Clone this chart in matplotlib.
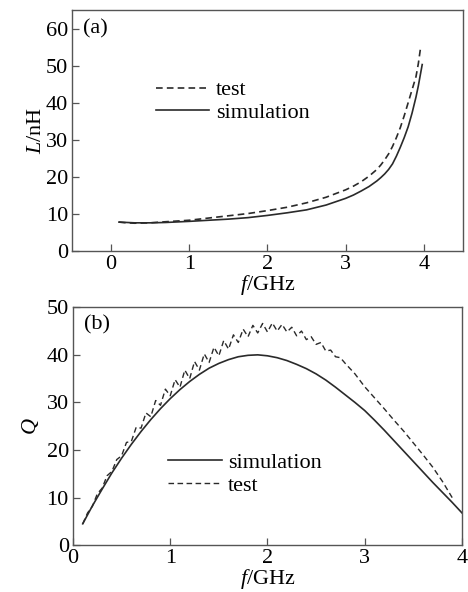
import numpy as np
import matplotlib
matplotlib.use("Agg")
import matplotlib.pyplot as plt

plt.rcParams["font.family"] = ["Liberation Serif", "DejaVu Serif"]
plt.rcParams["mathtext.fontset"] = "custom"
plt.rcParams["mathtext.rm"] = "Liberation Serif"
plt.rcParams["mathtext.it"] = "Liberation Serif:italic"

# (a) inductance vs frequency
L_f_sim = [0.1, 0.2, 0.3, 0.5, 0.7, 1.0, 1.25, 1.5, 1.75, 2.0, 2.25, 2.5, 2.75, 3.0, 3.1, 3.2,
           3.3, 3.4, 3.45, 3.5, 3.55, 3.6, 3.65, 3.7, 3.75, 3.8, 3.85, 3.9, 3.93, 3.96, 3.98]
L_sim = [7.8, 7.7, 7.6, 7.6, 7.7, 8.0, 8.3, 8.6, 9.0, 9.6, 10.3, 11.1, 12.4, 14.2, 15.1, 16.2,
         17.4, 18.9, 19.8, 20.8, 22.0, 23.5, 25.6, 28.0, 30.6, 33.5, 37.2, 41.5, 44.5, 48.0, 50.3]
L_f_test = [0.1, 0.2, 0.3, 0.5, 0.7, 1.0, 1.25, 1.5, 1.75, 2.0, 2.25, 2.5, 2.75, 3.0, 3.1, 3.2,
            3.3, 3.4, 3.45, 3.5, 3.55, 3.6, 3.65, 3.7, 3.75, 3.8, 3.85, 3.9, 3.93, 3.96]
L_test = [7.8, 7.6, 7.5, 7.6, 7.9, 8.3, 8.9, 9.5, 10.1, 10.9, 11.8, 13.0, 14.5, 16.5, 17.5, 18.7,
          20.2, 22.0, 23.2, 24.6, 26.2, 28.2, 30.6, 33.3, 36.5, 40.0, 43.5, 47.0, 50.5, 55.0]

# (b) quality factor vs frequency
Q_f_sim = [0.1, 0.2, 0.3, 0.4, 0.5, 0.6, 0.7, 0.8, 0.9, 1.0, 1.1, 1.2, 1.3, 1.4, 1.5, 1.6, 1.7,
           1.8, 1.9, 2.0, 2.1, 2.2, 2.3, 2.4, 2.5, 2.6, 2.7, 2.8, 2.9, 3.0, 3.1, 3.2, 3.3, 3.4,
           3.5, 3.6, 3.7, 3.8, 3.9, 4.0]
Q_sim = [4.5, 8.3, 11.8, 15.2, 18.3, 21.2, 23.9, 26.4, 28.7, 30.8, 32.7, 34.4, 35.9, 37.2, 38.2,
         39.0, 39.6, 39.9, 40.0, 39.8, 39.4, 38.8, 38.0, 37.1, 36.0, 34.7, 33.2, 31.6, 30.0, 28.3,
         26.3, 24.2, 22.0, 19.8, 17.6, 15.4, 13.2, 11.1, 9.0, 6.8]
Q_f_test = [0.10, 0.15, 0.20, 0.25, 0.30, 0.35, 0.40, 0.45, 0.50, 0.55,
            0.60, 0.65, 0.70, 0.75, 0.80, 0.85, 0.90, 0.95, 1.00, 1.05,
            1.10, 1.15, 1.20, 1.25, 1.30, 1.35, 1.40, 1.45, 1.50, 1.55,
            1.60, 1.65, 1.70, 1.75, 1.80, 1.85, 1.90, 1.95, 2.00, 2.05,
            2.10, 2.15, 2.20, 2.25, 2.30, 2.35, 2.40, 2.45, 2.50, 2.55,
            2.60, 2.65, 2.70, 2.75, 2.80, 2.90, 3.00, 3.10, 3.20, 3.30,
            3.40, 3.50, 3.60, 3.70, 3.80, 3.90]
Q_test = [4.5, 6.8, 8.2, 10.8, 12.0, 14.6, 15.5, 18.0, 18.8, 21.6,
          21.8, 24.8, 24.6, 27.8, 27.0, 30.4, 29.4, 32.8, 31.4, 34.8,
          33.2, 36.8, 35.0, 38.6, 36.8, 40.2, 38.4, 41.6, 39.8, 43.0,
          41.2, 44.2, 42.6, 45.4, 43.8, 46.2, 44.6, 46.6, 44.8, 46.7,
          45.0, 46.4, 44.8, 45.8, 44.0, 45.0, 43.2, 43.8, 42.2, 42.6,
          40.8, 41.0, 39.6, 39.4, 38.2, 36.0, 33.3, 31.0, 28.7, 26.3,
          24.0, 21.5, 19.0, 16.4, 13.4, 10.0]

fig = plt.figure(figsize=(4.68, 5.92), dpi=100)
ax1 = fig.add_axes([0.154, 0.576, 0.835, 0.407])
ax2 = fig.add_axes([0.156, 0.079, 0.831, 0.402])

lc = "#2a2a2a"
fs = 16

# top panel
ax1.plot(L_f_test, L_test, color=lc, lw=1.2, ls=(0, (4, 2.5)), label="test")
ax1.plot(L_f_sim, L_sim, color=lc, lw=1.2, label="simulation")
ax1.set_xlim(-0.5, 4.5)
ax1.set_ylim(0, 65)
ax1.set_xticks([0, 1, 2, 3, 4])
ax1.set_yticks([0, 10, 20, 30, 40, 50, 60])
ax1.set_xlabel(r"$f$/GHz", fontsize=fs, labelpad=-1)
ax1.set_ylabel(r"$L$/nH", fontsize=fs, labelpad=0)
ax1.text(0.028, 0.92, "(a)", transform=ax1.transAxes, fontsize=fs, va="center")
ax1.legend(loc="upper left", bbox_to_anchor=(0.215, 0.71), frameon=False, fontsize=fs,
           handlelength=2.4, handletextpad=0.3, labelspacing=0.1, borderpad=0, borderaxespad=0)

# bottom panel
ax2.plot(Q_f_sim, Q_sim, color=lc, lw=1.2, label="simulation")
ax2.plot(Q_f_test, Q_test, color=lc, lw=1.0, ls=(0, (4, 2.5)), label="test")
ax2.set_xlim(0, 4)
ax2.set_ylim(0, 50)
ax2.set_xticks([0, 1, 2, 3, 4])
ax2.set_yticks([0, 10, 20, 30, 40, 50])
ax2.set_xlabel(r"$f$/GHz", fontsize=fs, labelpad=-1)
ax2.set_ylabel(r"$Q$", fontsize=fs, labelpad=4)
ax2.text(0.028, 0.925, "(b)", transform=ax2.transAxes, fontsize=fs, va="center")
ax2.legend(loc="upper left", bbox_to_anchor=(0.245, 0.39), frameon=False, fontsize=fs,
           handlelength=2.4, handletextpad=0.3, labelspacing=0.1, borderpad=0, borderaxespad=0)

for ax in (ax1, ax2):
    for sp in ax.spines.values():
        sp.set_color("#555555")
        sp.set_linewidth(1.0)
    ax.tick_params(direction="in", length=5, width=0.9, labelsize=fs, pad=3, color="#555555")

fig.savefig("out.png", dpi=100)
